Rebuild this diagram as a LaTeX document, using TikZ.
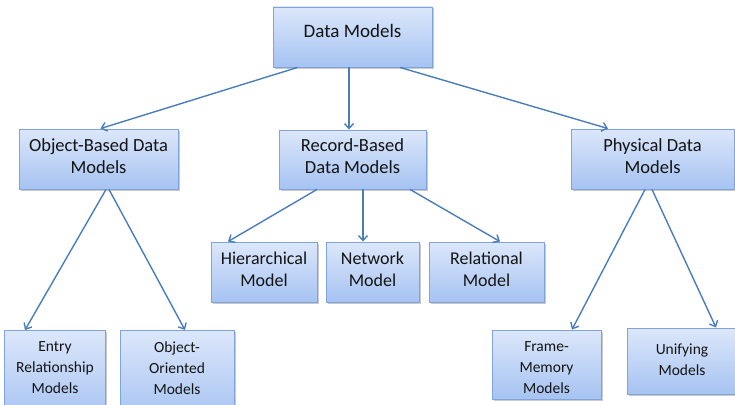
\documentclass[tikz,border=0pt]{standalone}
\usepackage{fontspec}
\setmainfont{Carlito}
\usetikzlibrary{arrows.meta,shadows}
\definecolor{boxtop}{HTML}{DCE7FA}
\definecolor{boxbot}{HTML}{A6C3F2}
\definecolor{boxline}{HTML}{7FA3DA}
\definecolor{arrcol}{HTML}{4A7EBB}
\definecolor{txt}{HTML}{141414}
\tikzset{
  box/.style={draw=boxline, line width=0.9pt, top color=boxtop, bottom color=boxbot,
    drop shadow={shadow xshift=1.5pt, shadow yshift=-1.5pt, opacity=0.35, fill=black!60},
    inner sep=0pt},
  lbl/.style={align=center, inner sep=0pt, text=txt},
  big/.style={font=\fontsize{19}{23}\selectfont},
  mid/.style={font=\fontsize{18.5}{22}\selectfont},
  third/.style={font=\fontsize{18}{22}\selectfont},
  small/.style={font=\fontsize{15.5}{21}\selectfont},
  arr/.style={draw=arrcol, line width=1.4pt, -{Straight Barb[length=5pt,width=9pt,line width=1.4pt]}}
}
\begin{document}
\begin{tikzpicture}[x=1pt,y=-1pt]
\useasboundingbox (0,0) rectangle (735,404);
\clip (0,0) rectangle (735,404);
% boxes
\node[box,minimum width=159pt,minimum height=60pt] (dm) at (352.5,37) {};
\node[box,minimum width=159pt,minimum height=60pt] (ob) at (98.5,159) {};
\node[box,minimum width=147pt,minimum height=59pt] (rb) at (352.5,159.5) {};
\node[box,minimum width=163pt,minimum height=60pt] (pd) at (652.5,159) {};
\node[box,minimum width=106pt,minimum height=60pt] (hm) at (264,272) {};
\node[box,minimum width=93pt,minimum height=60pt] (nm) at (372.5,272) {};
\node[box,minimum width=115pt,minimum height=60pt] (rm) at (486.5,272) {};
\node[box,minimum width=101pt,minimum height=90pt,anchor=north] (er) at (54.5,330) {};
\node[box,minimum width=114pt,minimum height=90pt,anchor=north] (oo) at (177,330) {};
\node[box,minimum width=109pt,minimum height=69pt] (fm) at (546.5,364.5) {};
\node[box,minimum width=110pt,minimum height=66pt] (un) at (682,361) {};
% texts
\node[lbl,big] (dmt) at (352.5,31) {Data Models};
\node[lbl,mid] (obt) at (98.5,156) {Object-Based Data\\Models};
\node[lbl,mid] (rbt) at (352.5,156) {Record-Based\\Data Models};
\node[lbl,mid] (pdt) at (652.5,156) {Physical Data\\Models};
\node[lbl,third] (hmt) at (264,269) {Hierarchical\\Model};
\node[lbl,third] (nmt) at (372.5,269) {Network\\Model};
\node[lbl,third] (rmt) at (486.5,269) {Relational\\Model};
\node[lbl,small] (ert) at (55,368) {Entry\\Relationship\\Models};
\node[lbl,small] (oot) at (177,368) {Object-\\Oriented\\Models};
\node[lbl,small] (fmt) at (546.5,368) {Frame-\\Memory\\Models};
\node[lbl,small] (unt) at (682,360) {Unifying\\Models};
% connectors
\draw[arr] ([xshift=-55pt]dm.south) -- ([xshift=2pt]ob.north);
\draw[arr] ([xshift=-3.5pt]dm.south) -- ([xshift=-3.5pt]rb.north);
\draw[arr] ([xshift=47.5pt]dm.south) -- ([xshift=-44.5pt]pd.north);
\draw[arr] ([xshift=7.5pt]ob.south) -- ([xshift=-29.5pt]er.north);
\draw[arr] ([xshift=10.5pt]ob.south) -- ([xshift=8pt]oo.north);
\draw[arr] ([xshift=-35.5pt]rb.south) -- ([xshift=-36pt]hm.north);
\draw[arr] ([xshift=10.5pt]rb.south) -- ([xshift=-9.5pt]nm.north);
\draw[arr] ([xshift=57.5pt]rb.south) -- ([xshift=13.5pt]rm.north);
\draw[arr] ([xshift=-7.5pt]pd.south) -- ([xshift=25.5pt]fm.north);
\draw[arr] ([xshift=-0.5pt]pd.south) -- ([xshift=34pt]un.north);
\end{tikzpicture}
\end{document}
